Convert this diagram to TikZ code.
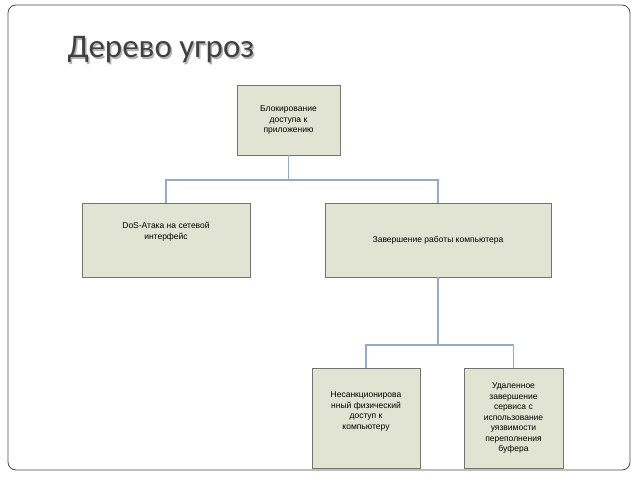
\documentclass[tikz,border=0pt]{standalone}
\usepackage{fontspec}
\setmainfont{Liberation Sans}
\newfontfamily\titlefont{Carlito}
\begin{document}
\begin{tikzpicture}[x=1pt,y=-1pt,
  box/.style={draw=black!55,fill={rgb,255:red,225;green,228;blue,210},inner sep=0pt,align=center,font=\fontsize{8.5}{10.5}\selectfont},
  conn/.style={draw={rgb,255:red,150;green,170;blue,195},line width=1.2pt}]
\useasboundingbox (0,0) rectangle (638,479);
\fill[white] (0,0) rectangle (638,479);
\draw[black!70,line width=0.8pt,rounded corners=8pt] (8,5) rectangle (630,470);
\node[anchor=west,font=\titlefont\fontsize{33}{36}\selectfont,text=black!30,xshift=1.5pt,yshift=-1.5pt] at (64,50) {Дерево угроз};
\node[anchor=west,font=\titlefont\fontsize{33}{36}\selectfont,text=black!75] (title) at (64,50) {Дерево угроз};
\node[box,minimum width=103pt,minimum height=70pt] (a) at (288.5,120) {Блокирование\\доступа к\\приложению};
\node[box,minimum width=168pt,minimum height=74pt] (b) at (166,240) {DoS-Атака на сетевой\\интерфейс\\[8pt]};
\node[box,minimum width=226pt,minimum height=74pt] (c) at (438,240) {Завершение работы компьютера};
\node[box,minimum width=108pt,minimum height=100pt] (d) at (366,418) {Несанкционирова\\нный физический\\доступ к\\компьютеру\\[4pt]};
\node[box,minimum width=99pt,minimum height=100pt] (e) at (513.5,418) {Удаленное\\завершение\\сервиса с\\использование\\уязвимости\\переполнения\\буфера};
\coordinate (j1) at (288.5,180);
\coordinate (j2) at (438,345);
\draw[conn] (a.south) -- (j1);
\draw[conn] (b.north) |- (j1) -| (c.north);
\draw[conn] (c.south) -- (j2);
\draw[conn] (d.north) |- (j2) -| (e.north);
\end{tikzpicture}
\end{document}
